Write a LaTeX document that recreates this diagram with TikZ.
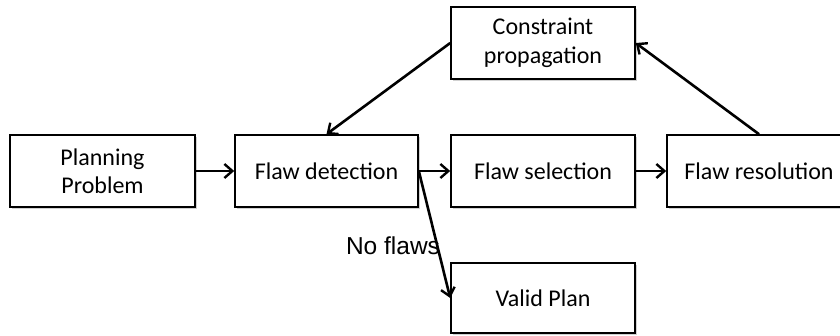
\documentclass[tikz,border=0pt]{standalone}
\usepackage{fontspec}
\setmainfont{Carlito}
\newfontfamily\labelfont{Liberation Sans}
\usetikzlibrary{arrows.meta,shadows}
\begin{document}
\begin{tikzpicture}[x=1pt,y=-1pt,
  box/.style={draw=black,line width=1.6pt,fill=white,minimum height=72pt,align=center,
    font=\fontsize{24}{28.5}\selectfont,inner sep=0pt,
    drop shadow={shadow xshift=1.5pt,shadow yshift=-2pt,fill=gray!60,opacity=0.6}},
  conn/.style={line width=2.6pt,-{Straight Barb[length=8pt,width=14pt,line width=2.4pt]}}]
\useasboundingbox (0,0) rectangle (840,335);
\clip (0,0) rectangle (840,335);
\node[box,minimum width=185pt] (pp) at (102.5,171) {Planning\\Problem};
\node[box,minimum width=183pt] (fd) at (326.5,171) {Flaw detection};
\node[box,minimum width=184pt] (fs) at (543,171) {Flaw selection};
\node[box,minimum width=184pt] (fr) at (759,171) {Flaw resolution};
\node[box,minimum width=184pt] (cp) at (543,43) {Constraint\\propagation};
\node[box,minimum width=184pt,minimum height=70pt] (vp) at (543,298) {Valid Plan};
\draw[conn] (pp.east) -- (fd.west);
\draw[conn] (fd.east) -- (fs.west);
\draw[conn] (fs.east) -- (fr.west);
\draw[conn] (fr.north) -- (cp.east);
\draw[conn] (cp.west) -- (fd.north);
\draw[conn] (fd.east) -- (vp.west);
\node[font=\labelfont\fontsize{24.5}{28}\selectfont,inner sep=0pt] (nf) at (393,246) {No flaws};
\end{tikzpicture}
\end{document}
